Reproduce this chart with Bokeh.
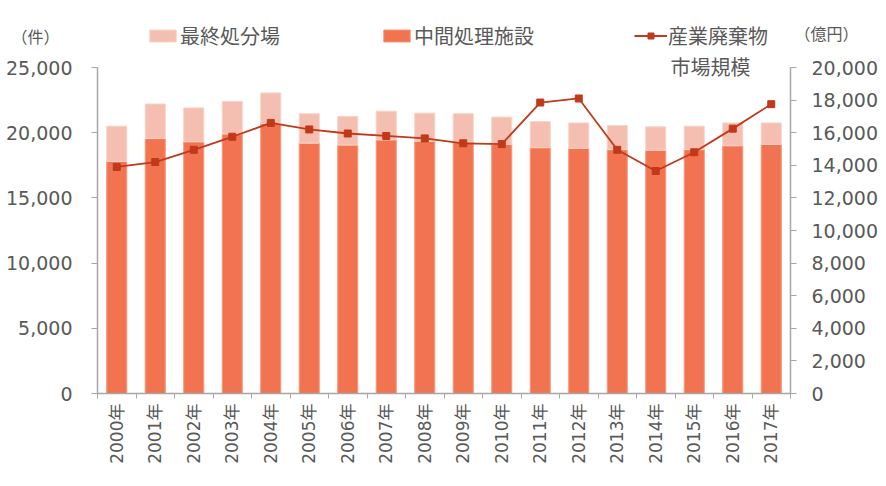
import math
from bokeh.plotting import figure
from bokeh.models import (ColumnDataSource, Range1d, LinearAxis, FixedTicker,
                          Legend, LegendItem, Label, NumeralTickFormatter)
from bokeh.embed import file_html
from bokeh.resources import INLINE

# ---- data ----
years = ["2000年", "2001年", "2002年", "2003年", "2004年", "2005年", "2006年",
         "2007年", "2008年", "2009年", "2010年", "2011年", "2012年", "2013年",
         "2014年", "2015年", "2016年", "2017年"]
intermediate = [17800, 19550, 19300, 19900, 20700, 19200, 19050, 19450, 19350,
                19300, 19100, 18850, 18800, 18700, 18650, 18700, 19000, 19100]
total = [20500, 22200, 21900, 22400, 23050, 21450, 21250, 21650, 21500,
         21450, 21200, 20850, 20750, 20550, 20450, 20500, 20750, 20750]
final_disposal = [t - m for t, m in zip(total, intermediate)]
market = [13900, 14200, 14950, 15750, 16600, 16200, 15950, 15800, 15650,
          15350, 15300, 17850, 18100, 14950, 13650, 14800, 16250, 17750]

left_ticks = [0, 5000, 10000, 15000, 20000, 25000]
right_ticks = [0, 2000, 4000, 6000, 8000, 10000, 12000, 14000, 16000, 18000, 20000]
LEFT_MAX = 25000
RIGHT_MAX = 20000

DARK = "#F2734F"
LIGHT = "#F4BEB0"
LINE = "#C0391B"
AXIS = "#A6A6A6"
TEXT = "#595959"
NUM_FONT = "DejaVu Sans, Noto Sans CJK JP"
CJK_FONT = "Noto Sans CJK JP"

# layout (pixels): frame extends above the 25,000 line so the legend fits inside
W, H = 886, 486
FRAME_TOP, FRAME_BOTTOM = 20, 393      # frame edges
AXIS_TOP = 67                           # where 25,000 / 20,000 sit
scale = (FRAME_BOTTOM - FRAME_TOP) / (FRAME_BOTTOM - AXIS_TOP)

n = len(years)
xc = [i + 0.5 for i in range(n)]
source = ColumnDataSource(dict(x=xc, mid=intermediate, fin=final_disposal,
                               tot=total, market=market))

p = figure(width=W, height=H, output_backend="svg", toolbar_location=None,
           x_range=Range1d(0, n), y_range=Range1d(0, LEFT_MAX * scale),
           min_border_left=97, min_border_right=W - 790,
           min_border_top=FRAME_TOP, min_border_bottom=H - FRAME_BOTTOM,
           outline_line_color=None)
p.extra_y_ranges = {"market": Range1d(0, RIGHT_MAX * scale)}
p.grid.visible = False

# stacked bars
r_mid = p.vbar(x="x", bottom=0, top="mid", width=0.52, source=source,
               fill_color=DARK, line_color="#F6967A", line_width=1)
r_fin = p.vbar(x="x", bottom="mid", top="tot", width=0.52, source=source,
               fill_color=LIGHT, line_color="#F8D3C8", line_width=1)

# line on the right axis
r_line = p.line(x="x", y="market", source=source, y_range_name="market",
                line_color=LINE, line_width=1.8)
r_pts = p.scatter(x="x", y="market", source=source, y_range_name="market",
                  marker="square", size=7, fill_color=LINE, line_color=LINE)

# x axis: labels at centers, small ticks at category boundaries
xa = p.xaxis[0]
xa.ticker = FixedTicker(ticks=xc, minor_ticks=list(range(n + 1)))
xa.major_label_overrides = {x: y for x, y in zip(xc, years)}
xa.major_label_orientation = math.pi / 2
xa.major_tick_out = 0
xa.major_tick_in = 0
xa.minor_tick_out = 5
xa.minor_tick_in = 0
xa.minor_tick_line_color = AXIS
xa.axis_line_color = AXIS
xa.axis_line_width = 1.5
xa.major_label_text_font = NUM_FONT
xa.major_label_text_font_size = "17px"
xa.major_label_text_color = TEXT
xa.major_label_standoff = 5

# left axis
ya = p.yaxis[0]
ya.ticker = FixedTicker(ticks=left_ticks)
ya.bounds = (0, LEFT_MAX)
ya.formatter = NumeralTickFormatter(format="0,0")
ya.major_tick_out = 6
ya.major_tick_in = 0
ya.minor_tick_line_color = None
ya.major_tick_line_color = AXIS
ya.axis_line_color = AXIS
ya.axis_line_width = 1.5
ya.major_label_text_font = NUM_FONT
ya.major_label_text_font_size = "19px"
ya.major_label_text_color = TEXT
ya.major_label_standoff = 19

# right axis
ra = LinearAxis(y_range_name="market", ticker=FixedTicker(ticks=right_ticks),
                formatter=NumeralTickFormatter(format="0,0"),
                bounds=(0, RIGHT_MAX))
ra.major_tick_out = 6
ra.major_tick_in = 0
ra.minor_tick_line_color = None
ra.major_tick_line_color = AXIS
ra.axis_line_color = AXIS
ra.axis_line_width = 1.5
ra.major_label_text_font = NUM_FONT
ra.major_label_text_font_size = "19px"
ra.major_label_text_color = TEXT
ra.major_label_standoff = 15
p.add_layout(ra, "right")

# legend (inside the extended frame)
legend = Legend(items=[
    LegendItem(label="最終処分場", renderers=[r_fin]),
    LegendItem(label="中間処理施設", renderers=[r_mid]),
    LegendItem(label="産業廃棄物", renderers=[r_line, r_pts]),
], orientation="horizontal", location=(49, 343),
    glyph_width=33, glyph_height=15, label_standoff=1, spacing=100,
    padding=0, margin=0, border_line_color=None, background_fill_alpha=0,
    label_text_font=CJK_FONT, label_text_font_size="20px",
    label_text_color=TEXT)
p.add_layout(legend, "center")

p.add_layout(Label(x=573, y=FRAME_BOTTOM - 66, x_units="screen", y_units="screen",
                   text="市場規模", text_font=CJK_FONT, text_font_size="20px",
                   text_color=TEXT, text_baseline="middle"))

# unit labels live in the side panels (outside the frame)
UNIT_FONT = "Liberation Sans, Noto Sans CJK JP"
p.add_layout(Label(x=11 - 97, y=FRAME_TOP - 37, x_units="screen", y_units="screen",
                   text="（件）", text_font=UNIT_FONT, text_font_size="16px",
                   text_color=TEXT, text_baseline="middle"), "above")
p.add_layout(Label(x=794 - 97, y=H - 37, x_units="screen", y_units="screen",
                   text="（億円）", text_font=UNIT_FONT, text_font_size="16px",
                   text_color=TEXT, text_baseline="middle"), "below")

open("out.html", "w").write(file_html(p, INLINE))
